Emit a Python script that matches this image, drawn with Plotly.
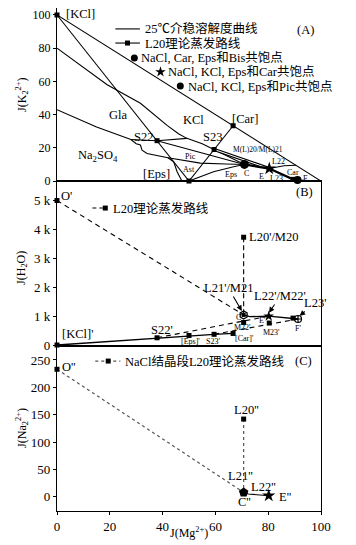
import plotly.graph_objects as go

# ---------------- Panel A : J(Mg2+) vs J(K2 2+) ----------------
hyp_x = [0, 100]; hyp_y = [100, 0]
kcl_eps_x = [0, 50]; kcl_eps_y = [100, 0]
eps_car_x = [50, 66.7]; eps_car_y = [0, 33.3]
na2so4_gla_x = [0, 15, 28]; na2so4_gla_y = [43, 32.5, 25]
gla_pic_x = [28, 37.9, 49.2]; gla_pic_y = [25, 24.3, 25.7]
kcl_bd_x = [0, 19, 31.6, 41.7, 46, 49.2, 55, 59.5, 65, 71, 80.4]
kcl_bd_y = [80, 58, 46.8, 33.5, 28.5, 25.7, 22.5, 19.0, 14.8, 10, 7.5]
wavy_x = [28, 30, 31.6, 32.2, 34.1, 36, 39.1, 42, 44.2, 45.5, 47.3]
wavy_y = [25, 22.5, 21.7, 18.6, 16.6, 16, 15.2, 14, 11.6, 5.6, 0]
ast_pic_x = [42, 54.3, 64, 71]; ast_pic_y = [14, 10.8, 10.3, 10]
ast_eps_x = [50, 59.3, 66.9, 71]; ast_eps_y = [0, 5.6, 8.6, 10]
kcl_car_x = [80.4, 86, 90.5]; kcl_car_y = [7.5, 9.2, 9.5]
bis_x = [91.1, 100]; bis_y = [0.6, 0]
tie_s22_x = [37.9, 71]; tie_s22_y = [24.3, 10]
tie_s23_x = [59.5, 80.4]; tie_s23_y = [19.0, 7.5]
path_a_x = [71, 80.4, 89.4, 91.1]; path_a_y = [10, 7.5, 1, 0.6]
solid_a_x = [0, 37.9, 50, 59.5, 66.7]; solid_a_y = [100, 24.3, 0, 19.0, 33.3]
pt_C = (71, 10); pt_E = (80.4, 7.5); pt_F = (91.1, 0.6); pt_L23 = (89.4, 1)

# ---------------- Panel B : J(Mg2+) vs J(H2O) ----------------
b_solid_x = [0, 37.9, 50, 59.5, 66.7]; b_solid_y = [0, 250, 330, 370, 400]
b_path_x = [70.7, 73, 80.2, 89.4, 91.3]; b_path_y = [1040, 980, 1000, 930, 900]
b_o_x = [0, 70.7]; b_o_y = [5000, 1040]
b_l20_x = [70.7, 70.7]; b_l20_y = [3730, 1040]
b_d1_x = [37.9, 80.2]; b_d1_y = [250, 1000]
b_d2_x = [59.5, 91.3]; b_d2_y = [370, 900]
b_m_x = [70.7, 80.4]; b_m_y = [780, 760]
b_tickvals = [0, 1000, 2000, 3000, 4000, 5000]
b_ticktext = ["0", "1 k", "2 k", "3 k", "4 k", "5 k"]

# ---------------- Panel C : J(Mg2+) vs J(Na2 2+) ----------------
c_o_x = [0, 70.7]; c_o_y = [233, 8]
c_l20_x = [70.7, 70.7]; c_l20_y = [142, 8]
c_path_x = [70.7, 72.5, 80.2]; c_path_y = [8, 5, 2]

FONT = "Liberation Serif, Noto Sans CJK SC, serif"
fig = go.Figure()

def ln(x, y, ax, w=1.1, dash="solid", color="black", mode="lines", sym="square", ms=5):
    xa, ya = ax
    fig.add_trace(go.Scatter(x=x, y=y, xaxis=xa, yaxis=ya, mode=mode,
                             line=dict(color=color, width=w, dash=dash),
                             marker=dict(symbol=sym, size=ms, color=color),
                             cliponaxis=False, hoverinfo="skip", showlegend=False))

def pts(x, y, ax, sym, ms, color="black", lw=0):
    xa, ya = ax
    fig.add_trace(go.Scatter(x=x, y=y, xaxis=xa, yaxis=ya, mode="markers",
                             marker=dict(symbol=sym, size=ms, color=color,
                                         line=dict(color="black", width=lw)),
                             cliponaxis=False, hoverinfo="skip", showlegend=False))

A = ("x", "y"); B = ("x2", "y2"); C = ("x3", "y3")

# Panel A lines
for xs, ys in [(hyp_x, hyp_y), (kcl_eps_x, kcl_eps_y), (eps_car_x, eps_car_y),
               (na2so4_gla_x, na2so4_gla_y), (gla_pic_x, gla_pic_y), (kcl_bd_x, kcl_bd_y),
               (wavy_x, wavy_y), (ast_pic_x, ast_pic_y), (ast_eps_x, ast_eps_y),
               (kcl_car_x, kcl_car_y), (bis_x, bis_y), (tie_s22_x, tie_s22_y)]:
    ln(xs, ys, A, w=1.1)
ln(tie_s23_x, tie_s23_y, A, w=3.2)
ln(tie_s23_x, tie_s23_y, A, w=1.0, color="white")
ln(path_a_x, path_a_y, A, w=2.2)
pts(solid_a_x, solid_a_y, A, "square", 5)
pts([pt_L23[0]], [pt_L23[1]], A, "square", 5)
pts([pt_C[0]], [pt_C[1]], A, "circle", 9)
pts([pt_E[0]], [pt_E[1]], A, "star", 10)
pts([pt_F[0]], [pt_F[1]], A, "circle", 8)
# legend of panel A
ln([22.1, 31.4], [91.6, 91.6], A, w=1.1)
ln([22.1, 31.4], [83.1, 83.1], A, w=1.1)
pts([26.7], [83.1], A, "square", 5)
pts([29.3], [74.1], A, "circle", 7)
pts([39.2], [65.7], A, "star", 8)
pts([46.7], [57.2], A, "circle", 7)

# Panel B
ln(b_o_x, b_o_y, B, w=1.1, dash="5px,4px")
ln(b_l20_x, b_l20_y, B, w=1.1, dash="5px,3px")
ln(b_d1_x, b_d1_y, B, w=1.1, dash="5px,4px")
ln(b_d2_x, b_d2_y, B, w=1.1, dash="5px,4px")
ln(b_solid_x, b_solid_y, B, w=1.3, mode="lines+markers", ms=5)
ln(b_path_x, b_path_y, B, w=1.3)
pts([b_o_x[0], b_l20_x[0]] + b_m_x, [b_o_y[0], b_l20_y[0]] + b_m_y, B, "square", 5)
pts([b_path_x[3]], [b_path_y[3]], B, "square", 5)
pts([b_path_x[0]], [b_path_y[0]], B, "hexagon-open", 8, lw=1.3)
pts([b_path_x[0]], [b_path_y[0]], B, "square", 4)
pts([b_path_x[2]], [b_path_y[2]], B, "star", 8)
pts([b_path_x[4]], [b_path_y[4]], B, "circle-cross-open", 7, lw=1.2)
ln([13.4, 17.8], [4740, 4740], B, w=1.1, dash="4px,3px")
pts([18.3], [4740], B, "square", 5)

# Panel C
ln(c_o_x, c_o_y, C, w=1.2, dash="dot", color="#555")
ln(c_l20_x, c_l20_y, C, w=1.2, dash="dot", color="#555")
ln(c_path_x, c_path_y, C, w=1.1)
pts([c_o_x[0], c_l20_x[0]], [c_o_y[0], c_l20_y[0]], C, "square", 5)
pts([c_path_x[0]], [c_path_y[0]], C, "pentagon", 10)
pts([c_path_x[-1]], [c_path_y[-1]], C, "star", 10)
ln([14.5, 24], [248, 248], C, w=1.2, dash="dot", color="#555")
pts([19.4], [248], C, "square", 5)

ann = []
def txt(x, y, s, ax, size=12.5, xanchor="center"):
    ann.append(dict(x=x, y=y, xref=ax[0], yref=ax[1], text=s, showarrow=False,
                    xanchor=xanchor, yanchor="middle", font=dict(size=size, family=FONT, color="black")))

def arrow_txt(tx, ty, s, x1, y1, ax, size=12.5):
    ann.append(dict(x=x1, y=y1, ax=tx, ay=ty, xref=ax[0], yref=ax[1], axref=ax[0], ayref=ax[1],
                    text=s, showarrow=True, arrowhead=2, arrowsize=1, arrowwidth=1.1,
                    arrowcolor="black", standoff=1, font=dict(size=size, family=FONT, color="black")))

S = 8
# Panel A texts
txt(2.5, 100.6, "[KCl]", A, xanchor="left")
txt(32.7, 91.6, "25℃介稳溶解度曲线", A, xanchor="left")
txt(32.7, 83.1, "L20理论蒸发路线", A, xanchor="left")
txt(31.2, 74.1, "NaCl, Car, Eps和Bis共饱点", A, xanchor="left")
txt(41.3, 65.7, "NaCl, KCl, Eps和Car共饱点", A, xanchor="left")
txt(48.7, 57.2, "NaCl, KCl, Eps和Pic共饱点", A, xanchor="left")
txt(94, 91, "(A)", A)
txt(23.3, 39.8, "Gla", A)
txt(51.6, 36.7, "KCl", A)
txt(71.3, 37.3, "[Car]", A)
txt(32.7, 26.8, "S22", A)
txt(58.8, 26.8, "S23", A)
txt(15.6, 15, "Na<sub>2</sub>SO<sub>4</sub>", A)
txt(50.5, 15, "Pic", A, size=S)
txt(50.1, 7.2, "Ast", A, size=S)
txt(37.6, 4.2, "[Eps]", A)
txt(66, 4.2, "Eps", A, size=S)
txt(71.7, 4.8, "C", A, size=S)
txt(76.3, 18.7, "M(L)20/M(L)21", A, size=7.5)
txt(83.8, 12, "L22", A, size=S)
txt(77.4, 3, "E", A, size=S)
txt(83, 1.4, "L23", A, size=S)
txt(89.5, 5.4, "Car", A, size=S)
txt(94, 1.8, "F", A, size=S)

# Panel B texts
txt(3.5, 5155, "O'", B)
txt(20.6, 4740, "L20理论蒸发路线", B, xanchor="left")
txt(93.7, 5294, "(B)", B)
txt(71.8, 3737, "L20'/M20", B, xanchor="left")
arrow_txt(64.9, 1972, "L21'/M21", 70.2, 1150, B)
arrow_txt(84.6, 1695, "L22'/M22'", 80.1, 1090, B)
arrow_txt(97.8, 1453, "L23'", 91.6, 990, B)
txt(69, 969, "C'", B, size=S)
txt(77.8, 865, "E'", B, size=S)
txt(91.4, 588, "F'", B, size=S)
txt(70.2, 623, "M22'", B, size=S)
txt(81.2, 450, "M23'", B, size=S)
txt(39.9, 519, "S22'", B)
txt(50.5, 138, "[Eps]'", B, size=S)
txt(59.2, 138, "S23'", B, size=S)
txt(70.9, 208, "[Car]'", B, size=S)
txt(1, 380, "[KCl]'", B, xanchor="left")

# Panel C texts
txt(1.3, 237, "O''", C, xanchor="left")
txt(25.1, 248, "NaCl结晶段L20理论蒸发路线", C, xanchor="left")
txt(93.3, 248, "(C)", C)
txt(71.7, 158.5, "L20''", C)
txt(69.4, 37.8, "L21''", C)
txt(78.1, 17.7, "L22''", C)
txt(71, -9.7, "C''", C)
txt(86.5, 0, "E''", C)

# axis titles (page body has an 8px margin, layout compensates for it)
def ptitle(x, y, s, angle=0):
    ann.append(dict(x=x, y=y, xref="paper", yref="paper", text=s, textangle=angle,
                    xanchor="center", yanchor="middle", showarrow=False,
                    font=dict(size=12, family=FONT, color="black")))
ptitle(-0.133, 0.827, "J(K<sub>2</sub><sup>2+</sup>)", -90)
ptitle(-0.133, 0.483, "J(H<sub>2</sub>O)", -90)
ptitle(-0.133, 0.165, "J(Na<sub>2</sub><sup>2+</sup>)", -90)
ptitle(0.5, -0.042, "J(Mg<sup>2+</sup>)")

axline = dict(showline=True, linecolor="black", linewidth=1.3, showgrid=False, zeroline=False)
tf13 = dict(size=13, family=FONT, color="black")
tf12 = dict(size=12, family=FONT, color="black")
fig.update_layout(
    width=356, height=545, margin=dict(l=49, r=43, t=0, b=42),
    paper_bgcolor="white", plot_bgcolor="white", showlegend=False,
    font=dict(family=FONT, size=12, color="black"),
    annotations=ann,
    xaxis=dict(domain=[0, 1], anchor="y", range=[0, 100], showticklabels=False, ticks="", **axline),
    yaxis=dict(domain=[0.656, 1], anchor="x", range=[0, 104.2], tickvals=[0, 20, 40, 60, 80, 100],
               ticks="outside", ticklen=3, tickcolor="black", tickfont=tf12, **axline),
    xaxis2=dict(domain=[0, 1], anchor="y2", range=[0, 100], showticklabels=False, ticks="",
                mirror=True, **axline),
    yaxis2=dict(domain=[0.328, 0.656], anchor="x2", range=[-35, 5675], tickvals=b_tickvals,
                ticktext=b_ticktext, ticks="outside", ticklen=3, tickcolor="black", tickfont=tf13,
                mirror=True, **axline),
    xaxis3=dict(domain=[0, 1], anchor="y3", range=[0, 100], tickvals=[0, 20, 40, 60, 80, 100],
                ticks="outside", ticklen=3, tickcolor="black", tickfont=tf13, mirror=True, **axline),
    yaxis3=dict(domain=[0, 0.328], anchor="x3", range=[-26, 275.5], tickvals=[0, 50, 100, 150, 200, 250],
                ticks="outside", ticklen=3, tickcolor="black", tickfont=tf13, mirror=True, **axline),
)
fig.write_html("out.html")
